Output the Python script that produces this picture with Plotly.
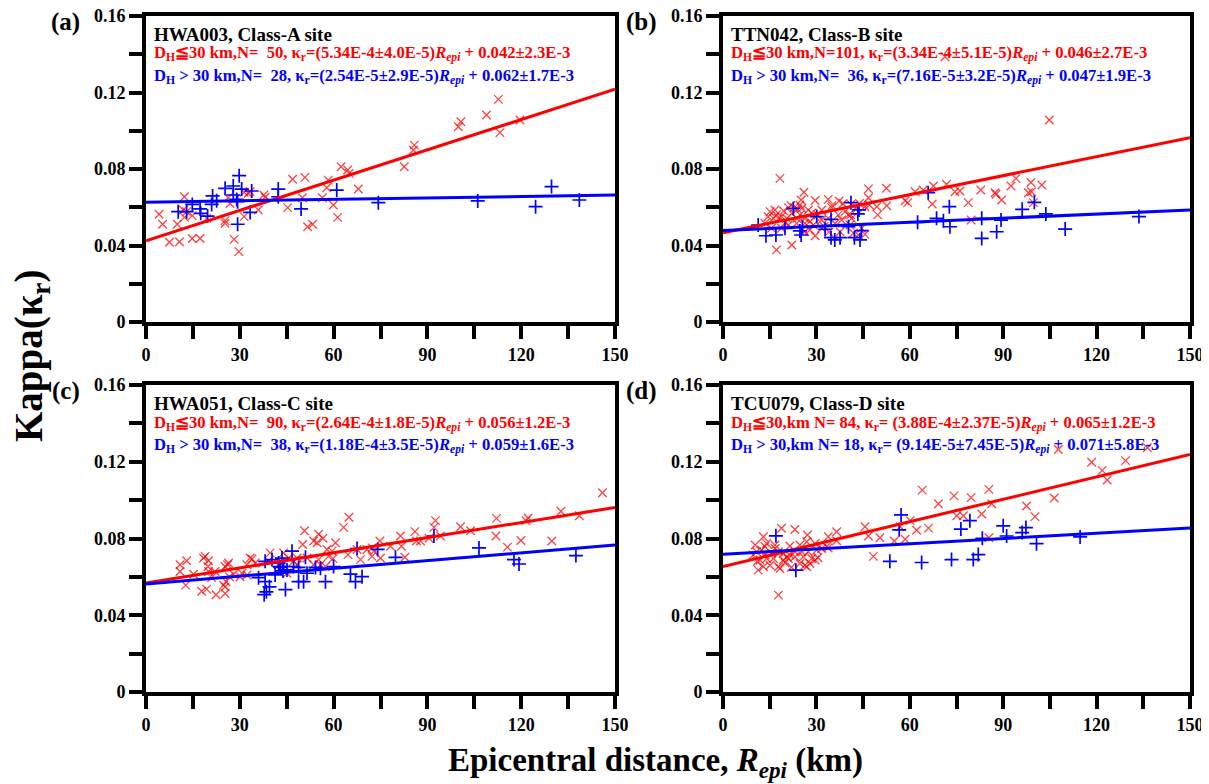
import plotly.graph_objects as go

# ---------------- data ----------------
# Panel (a) HWA003
a_red_x = [4.2, 5.3, 7.5, 10.0, 10.7, 12.3, 11.9, 12.3, 14.8, 14.8, 17.3, 19.4, 25.3, 25.3, 26.3, 26.9,
           28.2, 29.7, 31.4, 31.4, 33.3, 35.9, 37.7, 38.1, 45.3, 46.9, 50.0, 50.8, 51.7, 53.3, 56.4, 57.8,
           58.3, 59.9, 61.3, 62.4, 64.5, 65.0, 67.9, 82.6, 85.5, 85.8, 99.9, 100.7, 108.9, 112.7, 113.2,
           119.6, 32.7, 13.0]
a_red_y = [0.0563, 0.0511, 0.0417, 0.0511, 0.0420, 0.0655, 0.0586, 0.0547, 0.0556, 0.0437, 0.0437, 0.0542,
           0.0530, 0.0516, 0.0650, 0.0620, 0.0432, 0.0368, 0.0551, 0.0678, 0.0681, 0.0586, 0.0664, 0.0652,
           0.0598, 0.0746, 0.0650, 0.0756, 0.0498, 0.0511, 0.0650, 0.0702, 0.0742, 0.0612, 0.0547, 0.0812,
           0.0795, 0.0777, 0.0695, 0.0812, 0.0899, 0.0925, 0.1021, 0.1047, 0.1082, 0.1164, 0.0990, 0.1056,
           0.0673, 0.0577]
a_blue_x = [10.3, 13.0, 14.8, 17.3, 17.5, 19.7, 21.0, 21.3, 22.6, 25.3, 27.9, 27.9, 29.0, 29.3, 29.8, 29.3,
            30.6, 33.8, 33.3, 42.3, 42.3, 49.6, 61.0, 74.3, 106.1, 124.6, 129.7, 138.6]
a_blue_y = [0.0577, 0.0577, 0.0615, 0.0591, 0.0568, 0.0554, 0.0615, 0.0659, 0.0634, 0.0699, 0.0711, 0.0664,
            0.0641, 0.0629, 0.0765, 0.0511, 0.0695, 0.0685, 0.0573, 0.0695, 0.0655, 0.0591, 0.0690, 0.0624,
            0.0633, 0.0603, 0.0708, 0.0638]

# Panel (b) TTN042
b_red_x = [18.3, 26.0, 25.1, 24.7, 29.6, 33.8, 37.3, 46.7, 52.5, 46.7, 47.0, 41.1, 42.9, 45.6, 49.4, 52.6,
           49.7, 34.9, 31.7, 27.4, 25.3, 22.9, 21.0, 16.7, 15.1, 17.2, 18.8, 20.5, 23.7, 26.3, 22.1, 17.8,
           16.2, 29.6, 27.9, 31.7, 33.8, 37.0, 39.2, 40.3, 38.1, 41.3, 26.3, 29.0, 31.7, 27.9, 29.6, 26.3,
           17.2, 22.1, 37.6, 41.9, 45.6, 43.5, 40.8, 36.0, 24.7, 23.7, 21.0, 18.8, 15.6, 13.5,
           61.7, 64.3, 67.6, 71.8, 74.5, 76.1, 82.8, 87.7, 89.5, 92.5, 94.1, 98.9, 99.1, 102.4, 99.7, 98.1,
           78.8, 67.2, 59.3, 58.5, 104.8, 71.3, 79.7, 87.4,
           19.5, 21.8, 24.0, 28.5, 30.5, 35.0, 38.5, 43.8, 44.5, 41.0, 32.5, 20.0, 14.5, 34.0]
b_red_y = [0.0751, 0.0678, 0.0638, 0.0612, 0.0635, 0.0641, 0.0633, 0.0696, 0.0699, 0.0650, 0.0612, 0.0615,
           0.0598, 0.0603, 0.0603, 0.0608, 0.0560, 0.0598, 0.0586, 0.0586, 0.0594, 0.0598, 0.0598, 0.0586,
           0.0577, 0.0560, 0.0551, 0.0542, 0.0542, 0.0542, 0.0568, 0.0542, 0.0542, 0.0551, 0.0525, 0.0533,
           0.0542, 0.0560, 0.0577, 0.0560, 0.0533, 0.0542, 0.0516, 0.0507, 0.0490, 0.0481, 0.0451, 0.0472,
           0.0377, 0.0403, 0.0472, 0.0464, 0.0458, 0.0455, 0.0507, 0.0516, 0.0560, 0.0516, 0.0507, 0.0490,
           0.0490, 0.0516,
           0.0681, 0.0690, 0.0711, 0.0720, 0.0681, 0.0685, 0.0690, 0.0668, 0.0638, 0.0711, 0.0751, 0.0729,
           0.0681, 0.0716, 0.0624, 0.0676, 0.0624, 0.0617, 0.0624, 0.0634, 0.1056, 0.1387, 0.0533, 0.0676,
           0.0580, 0.0610, 0.0590, 0.0570, 0.0560, 0.0610, 0.0620, 0.0620, 0.0490, 0.0560, 0.0500, 0.0520,
           0.0550, 0.0470]
b_blue_x = [11.3, 13.8, 17.0, 19.9, 22.6, 24.7, 25.1, 25.5, 30.1, 32.8, 34.7, 34.7, 35.9, 37.6, 40.3, 41.1,
            42.2, 43.3, 44.0, 44.5, 43.7, 62.5, 65.9, 68.6, 70.8, 72.7, 72.9, 83.1, 83.1, 87.9, 89.3, 96.1,
            100.0, 103.7, 109.9, 133.6]
b_blue_y = [0.0507, 0.0451, 0.0455, 0.0490, 0.0594, 0.0476, 0.0455, 0.0498, 0.0551, 0.0485, 0.0537, 0.0441,
            0.0429, 0.0441, 0.0498, 0.0624, 0.0441, 0.0565, 0.0429, 0.0478, 0.0586, 0.0521, 0.0676, 0.0542,
            0.0530, 0.0603, 0.0498, 0.0542, 0.0437, 0.0472, 0.0533, 0.0589, 0.0626, 0.0565, 0.0486, 0.0551]

# Panel (c) HWA051
c_red_x = [10.9, 13.0, 10.9, 12.7, 15.2, 17.8, 18.9, 19.4, 20.0, 19.8, 21.0, 22.1, 22.4, 25.3, 25.3, 25.6,
           26.1, 26.4, 26.7, 28.0, 30.1, 32.3, 32.3, 33.9, 34.9, 39.7, 39.2, 42.4, 44.0, 45.1, 45.6, 47.2,
           48.3, 50.1, 50.7, 51.5, 53.6, 54.7, 55.2, 55.2, 56.6, 55.8, 57.9, 58.4, 59.8, 60.6, 63.2, 64.9,
           64.6, 68.6, 67.5, 70.7, 72.3, 72.9, 74.8, 75.0, 78.2, 81.4, 81.7, 82.8, 86.0, 86.5, 87.8, 90.5,
           92.1, 92.6, 94.2, 100.6, 103.8, 111.9, 112.1, 115.6, 119.9, 121.5, 122.2, 129.8, 132.7, 138.6,
           146.0, 59.5, 53.6, 24.8, 18.4, 33.3, 57.4, 48.3, 72.3, 25.3, 20.0, 30.7]
c_red_y = [0.0663, 0.0684, 0.0628, 0.0557, 0.0614, 0.0525, 0.0707, 0.0536, 0.0684, 0.0654, 0.0596, 0.0628,
           0.0507, 0.0513, 0.0548, 0.0575, 0.0663, 0.0672, 0.0601, 0.0614, 0.0601, 0.0610, 0.0663, 0.0693,
           0.0672, 0.0725, 0.0681, 0.0663, 0.0725, 0.0619, 0.0698, 0.0681, 0.0698, 0.0769, 0.0840, 0.0698,
           0.0787, 0.0778, 0.0822, 0.0690, 0.0801, 0.0663, 0.0743, 0.0707, 0.0695, 0.0778, 0.0858, 0.0911,
           0.0716, 0.0690, 0.0743, 0.0743, 0.0707, 0.0734, 0.0787, 0.0698, 0.0760, 0.0813, 0.0760, 0.0702,
           0.0836, 0.0787, 0.0787, 0.0801, 0.0858, 0.0893, 0.0813, 0.0861, 0.0840, 0.0813, 0.0905, 0.0755,
           0.0790, 0.0893, 0.0907, 0.0787, 0.0942, 0.0919, 0.1038, 0.0734, 0.0663, 0.0557, 0.0698, 0.0698,
           0.0654, 0.0663, 0.0751, 0.0654, 0.0628, 0.0619]
c_blue_x = [36.0, 38.1, 40.3, 38.1, 38.5, 37.8, 41.3, 42.4, 42.9, 43.5, 43.8, 44.6, 45.1, 46.7, 47.2, 48.8,
            48.8, 50.4, 51.0, 51.5, 54.2, 55.8, 57.4, 60.0, 65.4, 67.0, 67.5, 69.1, 74.1, 79.8, 92.1, 106.5,
            117.7, 119.3, 137.5, 42.7, 44.0, 39.5]
c_blue_y = [0.0596, 0.0681, 0.0690, 0.0575, 0.0522, 0.0507, 0.0610, 0.0672, 0.0649, 0.0698, 0.0631, 0.0534,
            0.0636, 0.0734, 0.0654, 0.0649, 0.0575, 0.0575, 0.0702, 0.0619, 0.0649, 0.0645, 0.0575, 0.0654,
            0.0614, 0.0575, 0.0748, 0.0601, 0.0743, 0.0702, 0.0813, 0.0751, 0.0690, 0.0667, 0.0711, 0.0654,
            0.0654, 0.0548]

# Panel (d) TCU079
d_red_x = [13.0, 18.8, 23.1, 27.1, 33.8, 36.5, 10.3, 14.0, 16.7, 16.7, 21.5, 24.7, 26.9, 29.6, 33.3, 36.5,
           10.8, 12.4, 13.5, 15.6, 17.8, 19.4, 21.5, 23.1, 25.3, 27.4, 30.1, 31.7, 11.9, 14.0, 16.2, 19.4,
           21.0, 23.1, 25.8, 28.5, 11.3, 13.0, 15.1, 17.8, 19.9, 24.7, 26.3, 27.9, 29.6, 17.8, 9.7, 18.3,
           26.9, 45.6, 46.7, 48.3, 50.4, 55.0, 56.9, 58.5, 60.1, 62.2, 64.0, 66.0, 69.2, 74.2, 75.1, 77.2,
           79.7, 83.1, 85.4, 86.3, 85.4, 97.5, 100.2, 106.4, 107.7, 118.4, 121.8, 123.4, 129.3, 136.3, 33.8,
           13.5, 20.5, 22.0, 30.5, 11.0]
d_red_y = [0.0809, 0.0853, 0.0847, 0.0818, 0.0809, 0.0835, 0.0766, 0.0774, 0.0766, 0.0748, 0.0761, 0.0766,
           0.0783, 0.0774, 0.0757, 0.0788, 0.0731, 0.0740, 0.0714, 0.0722, 0.0731, 0.0722, 0.0714, 0.0731,
           0.0731, 0.0731, 0.0740, 0.0748, 0.0688, 0.0696, 0.0696, 0.0688, 0.0696, 0.0705, 0.0705, 0.0696,
           0.0635, 0.0653, 0.0661, 0.0653, 0.0674, 0.0670, 0.0661, 0.0670, 0.0688, 0.0505, 0.0714, 0.0644,
           0.0653, 0.0861, 0.0813, 0.0707, 0.0804, 0.0787, 0.0861, 0.0796, 0.0893, 0.0843, 0.1052, 0.0854,
           0.0981, 0.1022, 0.0919, 0.0919, 0.1013, 0.0928, 0.1056, 0.0981, 0.0804, 0.0969, 0.0914, 0.1011,
           0.1264, 0.1197, 0.1155, 0.1105, 0.1206, 0.1273, 0.0751, 0.0758, 0.0705, 0.0650, 0.0700, 0.0680]
d_blue_x = [17.0, 23.4, 53.6, 57.2, 56.6, 63.8, 73.4, 76.4, 79.3, 80.4, 82.0, 83.3, 90.0, 91.1, 96.1, 97.3,
            100.7, 114.7]
d_blue_y = [0.0814, 0.0635, 0.0681, 0.0923, 0.0845, 0.0675, 0.0690, 0.0849, 0.0893, 0.0690, 0.0716, 0.0801,
            0.0866, 0.0813, 0.0831, 0.0857, 0.0773, 0.0808]

# Fitted lines: kappa at R_epi = 0 and R_epi = 150 as drawn
fit_x = [0, 150]
a_red_fit = [0.0425, 0.1217]
a_blue_fit = [0.0626, 0.0664]
b_red_fit = [0.0467, 0.0964]
b_blue_fit = [0.0478, 0.0586]
c_red_fit = [0.0568, 0.0962]
c_blue_fit = [0.0563, 0.0766]
d_red_fit = [0.0654, 0.1238]
d_blue_fit = [0.0718, 0.0855]

x_tick_vals = [0, 15, 30, 45, 60, 75, 90, 105, 120, 135, 150]
x_tick_text = ["0", "", "30", "", "60", "", "90", "", "120", "", "150"]
y_tick_vals = [0, 0.02, 0.04, 0.06, 0.08, 0.10, 0.12, 0.14, 0.16]
y_tick_text = ["0", "", "0.04", "", "0.08", "", "0.12", "", "0.16"]

panel_letters = ["(a)", "(b)", "(c)", "(d)"]
site_titles = ["HWA003, Class-A site", "TTN042, Class-B site", "HWA051, Class-C site", "TCU079, Class-D site"]
NB = "\u00a0"
red_labels = [
    f"D<sub>H</sub>≦30 km,N={NB}{NB}50, κ<sub>r</sub>=(5.34E-4±4.0E-5)<i>R</i><sub><i>epi</i></sub> + 0.042±2.3E-3",
    f"D<sub>H</sub>≦30 km,N=101, κ<sub>r</sub>=(3.34E-4±5.1E-5)<i>R</i><sub><i>epi</i></sub> + 0.046±2.7E-3",
    f"D<sub>H</sub>≦30 km,N={NB}{NB}90, κ<sub>r</sub>=(2.64E-4±1.8E-5)<i>R</i><sub><i>epi</i></sub> + 0.056±1.2E-3",
    f"D<sub>H</sub>≦30,km N= 84, κ<sub>r</sub>= (3.88E-4±2.37E-5)<i>R</i><sub><i>epi</i></sub> + 0.065±1.2E-3",
]
blue_labels = [
    f"D<sub>H</sub> > 30 km,N={NB}{NB}28, κ<sub>r</sub>=(2.54E-5±2.9E-5)<i>R</i><sub><i>epi</i></sub> + 0.062±1.7E-3",
    f"D<sub>H</sub> > 30 km,N={NB}{NB}36, κ<sub>r</sub>=(7.16E-5±3.2E-5)<i>R</i><sub><i>epi</i></sub> + 0.047±1.9E-3",
    f"D<sub>H</sub> > 30 km,N={NB}{NB}38, κ<sub>r</sub>=(1.18E-4±3.5E-5)<i>R</i><sub><i>epi</i></sub> + 0.059±1.6E-3",
    f"D<sub>H</sub> > 30,km N= 18, κ<sub>r</sub>= (9.14E-5±7.45E-5)<i>R</i><sub><i>epi</i></sub> + 0.071±5.8E-3",
]

panels = [
    (a_red_x, a_red_y, a_blue_x, a_blue_y, a_red_fit, a_blue_fit),
    (b_red_x, b_red_y, b_blue_x, b_blue_y, b_red_fit, b_blue_fit),
    (c_red_x, c_red_y, c_blue_x, c_blue_y, c_red_fit, c_blue_fit),
    (d_red_x, d_red_y, d_blue_x, d_blue_y, d_red_fit, d_blue_fit),
]

# ---------------- layout geometry ----------------
W, H = 1209, 784
OFF = 8  # page body margin in the browser


def px(xp):
    return (xp - OFF) / W


def py(yp):
    return 1 - (yp - OFF) / H


x_domains = [(px(146), px(615)), (px(723), px(1190))]
y_domains = [(py(322), py(16)), (py(692), py(385))]
panel_left = [146, 723]
panel_top = [16, 385]
FONT = "Liberation Serif, Times New Roman, serif"

fig = go.Figure()
layout = dict(
    template="none",
    width=W, height=H, margin=dict(l=0, r=0, t=0, b=0, autoexpand=False),
    paper_bgcolor="white", plot_bgcolor="white", showlegend=False,
    font=dict(family=FONT, color="black"),
)
annotations = []

for i, (rx, ry, bx, by, rfit, bfit) in enumerate(panels):
    row, col = divmod(i, 2)
    n = "" if i == 0 else str(i + 1)
    xa, ya = "x" + n, "y" + n
    fig.add_trace(go.Scatter(x=rx, y=ry, xaxis=xa, yaxis=ya, mode="markers",
                             marker=dict(symbol="x-thin-open", size=8.5, color="rgba(255,0,0,0.75)",
                                         line=dict(width=1.3, color="rgba(255,0,0,0.75)"))))
    fig.add_trace(go.Scatter(x=bx, y=by, xaxis=xa, yaxis=ya, mode="markers",
                             marker=dict(symbol="cross-thin-open", size=10, color="#0000ff",
                                         line=dict(width=1.7, color="#0000ff"))))
    fig.add_trace(go.Scatter(x=fit_x, y=rfit, xaxis=xa, yaxis=ya, mode="lines",
                             line=dict(color="#ff0000", width=3)))
    fig.add_trace(go.Scatter(x=fit_x, y=bfit, xaxis=xa, yaxis=ya, mode="lines",
                             line=dict(color="#0000ff", width=3)))

    axcommon = dict(showgrid=False, zeroline=False, showline=True, linewidth=4, linecolor="black",
                    mirror=True, ticks="outside", ticklen=13, tickwidth=3.5, tickcolor="black",
                    automargin=False, ticklabeloverflow="allow",
                    tickfont=dict(family=FONT, size=18, color="black", weight="bold"))
    layout["xaxis" + n] = dict(domain=x_domains[col], range=[0, 150], anchor=ya,
                               tickmode="array", tickvals=x_tick_vals, ticktext=x_tick_text, **axcommon)
    layout["yaxis" + n] = dict(domain=y_domains[row], range=[0, 0.16], anchor=xa,
                               tickmode="array", tickvals=y_tick_vals, ticktext=y_tick_text, **axcommon)

    xl = panel_left[col]
    yt = panel_top[row]
    annotations.append(dict(text=panel_letters[i], xref="paper", yref="paper",
                            x=px(xl - 64), y=py(yt + 6),
                            xanchor="right", yanchor="middle", showarrow=False,
                            font=dict(family=FONT, size=25, color="black", weight="bold")))
    annotations.append(dict(text=site_titles[i], xref="paper", yref="paper", x=px(xl + 6), y=py(yt + 18),
                            xanchor="left", yanchor="middle", showarrow=False,
                            font=dict(family=FONT, size=19, color="black", weight="bold")))
    annotations.append(dict(text=red_labels[i], xref="paper", yref="paper", x=px(xl + 6), y=py(yt + 38),
                            xanchor="left", yanchor="middle", showarrow=False,
                            font=dict(family=FONT, size=16.6, color="#ff0000", weight="bold")))
    annotations.append(dict(text=blue_labels[i], xref="paper", yref="paper", x=px(xl + 6), y=py(yt + 60),
                            xanchor="left", yanchor="middle", showarrow=False,
                            font=dict(family=FONT, size=16.6, color="#0000ff", weight="bold")))

# global axis titles
annotations.append(dict(text="Kappa(κ<sub>r</sub>)", xref="paper", yref="paper", x=px(31), y=py(356),
                        textangle=-90, xanchor="center", yanchor="middle", showarrow=False,
                        font=dict(family=FONT, size=39, color="black", weight="bold")))
annotations.append(dict(text="Epicentral distance, <i>R</i><sub><i>epi</i></sub> (km)", xref="paper", yref="paper",
                        x=px(656), y=py(762), xanchor="center", yanchor="middle", showarrow=False,
                        font=dict(family=FONT, size=33, color="black", weight="bold")))

layout["annotations"] = annotations
fig.update_layout(**layout)
fig.write_html("out.html")
